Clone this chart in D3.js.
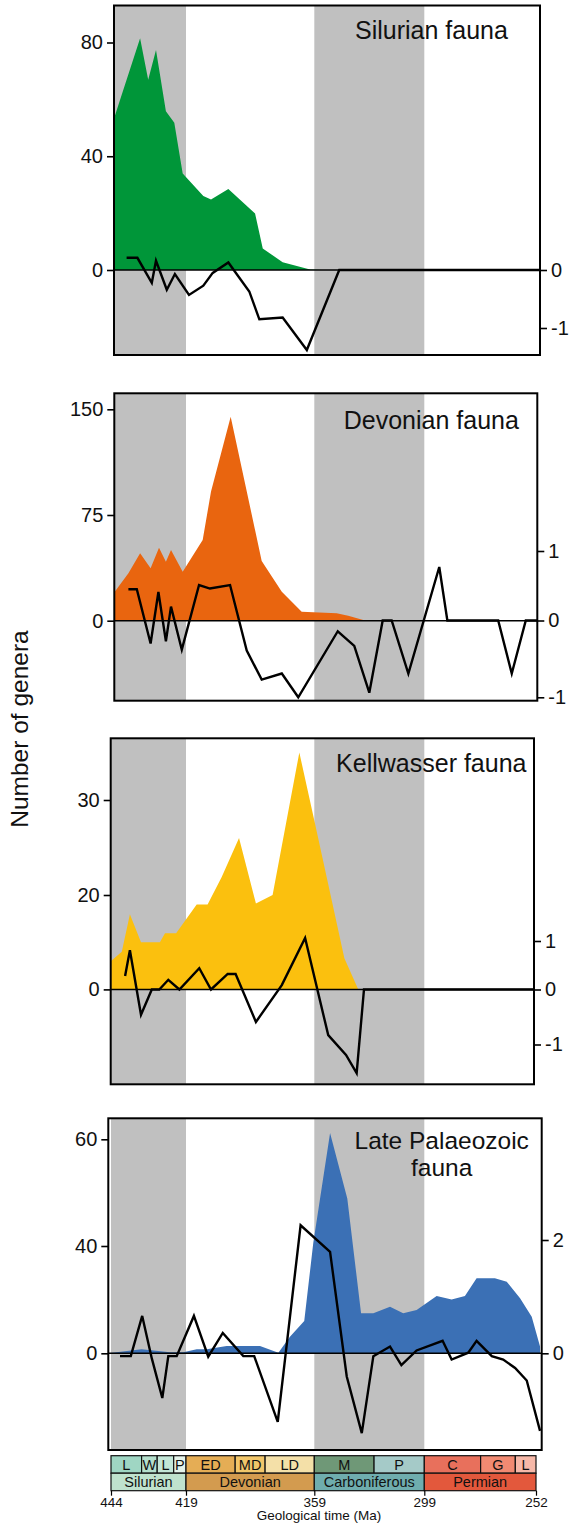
<!DOCTYPE html>
<html><head><meta charset="utf-8">
<script src="https://cdn.jsdelivr.net/npm/d3@7"></script>
<style>
body{margin:0;background:#fff}
svg{display:block}
text{font-family:"Liberation Sans",Arial,Helvetica,sans-serif;fill:#111}
</style>
</head><body>
<svg id="chart" width="570" height="1523"></svg>
<script>
// ---------- DATA (age in Ma, value) ----------
const silurianGenera = [[444,50],[434.3,81.5],[431.6,66.9],[429,77.4],[425.7,55.8],[422.9,51.8],[420.1,33.9],[410.9,26],[407.3,24.8],[399.2,28.5],[386.7,19.9],[383.1,7.6],[373.8,2.7],[361,0.2],[355,0]];
const silurianRate = [[438.8,0.21],[435.2,0.21],[430.4,-0.22],[429,0.16],[425.4,-0.34],[422.7,-0.07],[417.6,-0.43],[410.9,-0.27],[406.5,-0.05],[399.2,0.13],[389.4,-0.37],[384.7,-0.85],[373.8,-0.82],[362.5,-1.38],[345.4,0],[250,0]];

const devonianGenera = [[444,17],[438.2,33.6],[434.3,47.8],[430.8,37.2],[428,51.8],[425.7,41.9],[424,50.2],[420.1,34.8],[411.2,57.3],[407.3,91.6],[398.1,144.8],[383.6,42.4],[374.2,20.6],[364.9,6.4],[346.8,5.3],[340.5,3.5],[332.3,0.5],[289.6,0.5],[289.3,0],[252,0]];
const devonianRate = [[438.2,0.45],[435.4,0.45],[430.8,-0.30],[428.2,0.41],[425.7,-0.27],[424,0.20],[420.4,-0.38],[412.9,0.51],[407.8,0.46],[398.4,0.51],[390.6,-0.39],[383.6,-0.77],[374.2,-0.69],[366.5,-1.0],[346.2,-0.14],[337.2,-0.33],[329,-0.94],[321.7,0],[316.8,0],[307.7,-0.69],[292.7,0.77],[289.3,0],[267.9,0],[262.2,-0.69],[256.3,0],[250,0]];

const kellwasserGenera = [[444,6],[440.4,8],[437.7,15.9],[434,10],[427.7,10],[426,11.9],[422.3,11.9],[414,18],[408.9,18],[402.3,21.9],[394.2,26],[386.3,18.2],[378.5,20],[366,35],[358.6,27.5],[342.6,6.6],[335,0]];
const kellwasserRate = [[439.3,0.28],[437.7,0.81],[434,-0.46],[430.4,0],[427.9,0],[424.9,0.2],[421.2,0],[412.8,0.44],[407.3,0],[399.5,0.32],[395.8,0.32],[386.3,-0.59],[374.2,0.09],[363.3,1.06],[351.4,-0.83],[341.7,-1.19],[335.9,-1.52],[331.9,0],[250,0]];

const latePalaeozoicGenera = [[445,0],[433.8,1.5],[424.3,0.4],[419.9,0.4],[414,1.5],[409.3,1.5],[400,2.7],[384.4,2.7],[375.8,0.2],[370.4,6.2],[363.7,12],[359.5,40.5],[350.4,61.2],[341,48.9],[333.5,14.9],[326.8,14.9],[317.7,17.4],[310.5,14.9],[303.2,16.1],[293.8,21.4],[287.5,20.1],[281.9,21.4],[277,28],[269.3,28],[264.3,26.7],[258.7,20.5],[253.8,13.6],[250.3,2.5]];
const latePalaeozoicRate = [[441,-0.05],[437.4,-0.05],[433.6,0.66],[430.4,-0.09],[426.9,-0.79],[424.9,-0.05],[422.1,-0.05],[415.3,0.66],[408.6,-0.06],[401.8,0.36],[392.2,-0.05],[387.1,-0.05],[376.1,-1.21],[365.4,2.26],[350.4,1.79],[341.3,-0.41],[333.1,-1.41],[326.8,-0.05],[317.7,0.12],[311.5,-0.21],[303.2,0.05],[291.3,0.22],[287.5,-0.11],[280.5,0.01],[277,0.22],[270.6,-0.05],[265.8,-0.11],[260.8,-0.26],[255.9,-0.48],[250.3,-1.37]];

const faunaTitles = [["Silurian fauna"],["Devonian fauna"],["Kellwasser fauna"],["Late Palaeozoic","fauna"]];
const leftTicks = [[0,40,80],[0,75,150],[0,20,30],[0,40,60]];
const rightTicks = [[-1,0],[-1,0,1],[-1,0,1],[0,2]];
const faunaColors = ["#009639","#e9650f","#fbc00e","#3b70b5"];

const periodNames = ["Silurian","Devonian","Carboniferous","Permian"];
const periodBounds = [444,419,359,299,252];
const periodColors = ["#bfe2cd","#d39b4f","#6fadae","#e3583c"];
const epochNames = ["L","W","L","P","ED","MD","LD","M","P","C","G","L"];
const epochBounds = [444,433.8,428.6,423.1,419,396,382,359,326.4,299,275.3,260.7,252];
const epochColors = ["#9fd6c3","#b4dfcc","#c3e6d7","#e4f3ea","#e5ad55","#f1c66a","#f4e0a8","#6f9877","#a5cac8","#e8705c","#f18a72","#f6b8a8"];
const timeTicks = [444,419,359,299,252];
const shadedIntervals = [[444,419],[359,299]];

// ---------- LAYOUT ----------
const svg = d3.select("#chart");
const x = d3.scaleLinear().domain(periodBounds).range([111,186,314.3,424.3,536]);

const panels = [
  {x0:114, y0:5.5, x1:540, y1:355, yl:{d:[0,80], r:[270,42.5]}, yr:{d:[-1,0], r:[328,270]}, tx:431.5, ty:39.3, fs:25, lh:0},
  {x0:114.3, y0:393.3, x1:537.3, y1:700.7, yl:{d:[0,150], r:[620.7,409.3]}, yr:{d:[-1,0,1], r:[697.3,620.5,551]}, tx:431.3, ty:429.3, fs:25, lh:0},
  {x0:110.7, y0:738.3, x1:534, y1:1084.3, yl:{d:[0,20,30], r:[989.4,895,800]}, yr:{d:[-1,0,1], r:[1044.5,989.5,941]}, tx:431.3, ty:771.7, fs:25, lh:0},
  {x0:108.3, y0:1118.3, x1:541.7, y1:1450, yl:{d:[0,40,60], r:[1353.3,1246,1139.3]}, yr:{d:[0,2], r:[1353.3,1240]}, tx:441.7, ty:1148.8, fs:24.5, lh:27.2}
];
const generaSeries = [silurianGenera, devonianGenera, kellwasserGenera, latePalaeozoicGenera];
const rateSeries = [silurianRate, devonianRate, kellwasserRate, latePalaeozoicRate];

panels.forEach((p, i) => {
  const yL = d3.scaleLinear().domain(p.yl.d).range(p.yl.r);
  const yR = d3.scaleLinear().domain(p.yr.d).range(p.yr.r);
  const g = svg.append("g");
  const clipId = "clip" + i;
  svg.append("clipPath").attr("id", clipId).append("rect")
    .attr("x", p.x0).attr("y", p.y0).attr("width", p.x1 - p.x0).attr("height", p.y1 - p.y0);
  const inner = g.append("g").attr("clip-path", `url(#${clipId})`);

  inner.selectAll("rect.band").data(shadedIntervals).join("rect")
    .attr("x", d => x(d[0])).attr("width", d => x(d[1]) - x(d[0]))
    .attr("y", p.y0).attr("height", p.y1 - p.y0).attr("fill", "#c0c0c0");

  const area = d3.area().x(d => x(d[0])).y0(yL(0)).y1(d => yL(d[1]));
  inner.append("path").datum(generaSeries[i]).attr("d", area).attr("fill", faunaColors[i]);

  inner.append("line").attr("x1", p.x0).attr("x2", p.x1).attr("y1", yL(0)).attr("y2", yL(0))
    .attr("stroke", "#000").attr("stroke-width", 1.5);

  const line = d3.line().x(d => x(d[0])).y(d => yR(d[1]));
  inner.append("path").datum(rateSeries[i]).attr("d", line)
    .attr("fill", "none").attr("stroke", "#000").attr("stroke-width", 2.4).attr("stroke-linejoin", "miter");

  // title
  faunaTitles[i].forEach((s, k) => {
    g.append("text").attr("x", p.tx).attr("y", p.ty + k * p.lh).attr("text-anchor", "middle")
      .attr("font-size", p.fs).text(s);
  });

  // left axis
  const la = g.append("g").attr("transform", `translate(${p.x0},0)`)
    .call(d3.axisLeft(yL).tickValues(leftTicks[i]).tickFormat(d => String(d)).tickSize(7).tickPadding(4));
  la.select(".domain").remove();
  la.selectAll("line").attr("stroke", "#000").attr("stroke-width", 1.6);
  la.selectAll("text").attr("font-size", 20).attr("font-family", '"Liberation Sans",Arial,sans-serif').attr("fill", "#111");

  const ra = g.append("g").attr("transform", `translate(${p.x1},0)`)
    .call(d3.axisRight(yR).tickValues(rightTicks[i]).tickFormat(d => String(d)).tickSize(7).tickPadding(4));
  ra.select(".domain").remove();
  ra.selectAll("line").attr("stroke", "#000").attr("stroke-width", 1.6);
  ra.selectAll("text").attr("font-size", 20).attr("font-family", '"Liberation Sans",Arial,sans-serif').attr("fill", "#111");

  g.append("rect").attr("x", p.x0).attr("y", p.y0).attr("width", p.x1 - p.x0).attr("height", p.y1 - p.y0)
    .attr("fill", "none").attr("stroke", "#000").attr("stroke-width", 2);
});

// y label
svg.append("text").attr("transform", "translate(27.5,729) rotate(-90)").attr("text-anchor", "middle")
  .attr("font-size", 24.5).text("Number of genera");

// ---------- TIMESCALE ----------
const ts = svg.append("g");
const epochs = epochNames.map((n, i) => ({n, a: epochBounds[i], b: epochBounds[i + 1], c: epochColors[i]}));
const periods = periodNames.map((n, i) => ({n, a: periodBounds[i], b: periodBounds[i + 1], c: periodColors[i]}));
const rowTop = 1455.7, rowMid = 1473.2, rowBot = 1490.7;

ts.selectAll("rect.ep").data(epochs).join("rect")
  .attr("x", d => x(d.a)).attr("width", d => x(d.b) - x(d.a))
  .attr("y", rowTop).attr("height", rowMid - rowTop)
  .attr("fill", d => d.c).attr("stroke", "#111").attr("stroke-width", 1.2);
ts.selectAll("text.ep").data(epochs).join("text")
  .attr("x", d => (x(d.a) + x(d.b)) / 2).attr("y", (rowTop + rowMid) / 2 + 5.2)
  .attr("text-anchor", "middle").attr("font-size", 14.5).text(d => d.n);

ts.selectAll("rect.pe").data(periods).join("rect")
  .attr("x", d => x(d.a)).attr("width", d => x(d.b) - x(d.a))
  .attr("y", rowMid).attr("height", rowBot - rowMid)
  .attr("fill", d => d.c).attr("stroke", "#111").attr("stroke-width", 1.2);
ts.selectAll("text.pe").data(periods).join("text")
  .attr("x", d => (x(d.a) + x(d.b)) / 2).attr("y", (rowMid + rowBot) / 2 + 5.2)
  .attr("text-anchor", "middle").attr("font-size", 14.5).text(d => d.n);

const ta = ts.append("g").attr("transform", `translate(0,${rowBot})`)
  .call(d3.axisBottom(x).tickValues(timeTicks).tickFormat(d => String(d)).tickSize(5).tickPadding(1.5));
ta.select(".domain").remove();
ta.selectAll("line").attr("stroke", "#000").attr("stroke-width", 1.2);
ta.selectAll("text").attr("font-size", 13.5).attr("font-family", '"Liberation Sans",Arial,sans-serif').attr("fill", "#111");

ts.append("text").attr("x", 319).attr("y", 1519.5).attr("text-anchor", "middle").attr("font-size", 13.5)
  .text("Geological time (Ma)");
</script>
</body></html>
